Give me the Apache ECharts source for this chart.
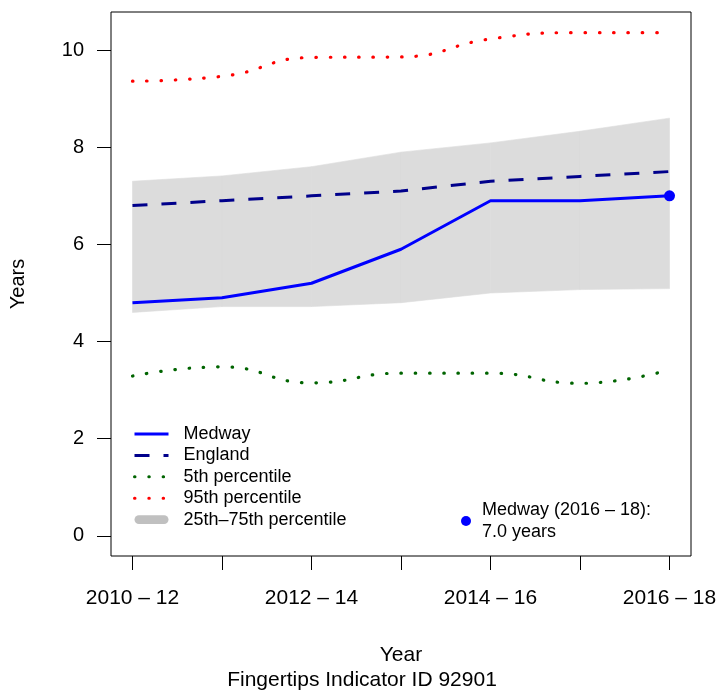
<!DOCTYPE html>
<html>
<head>
<meta charset="utf-8">
<script src="https://cdn.jsdelivr.net/npm/echarts@6/dist/echarts.min.js"></script>
<style>html,body{margin:0;padding:0;background:#fff}#c{width:724px;height:692px}</style>
</head>
<body>
<div id="c"></div>
<script>
var categories = ['2010 – 12','2011 – 13','2012 – 14','2013 – 15','2014 – 16','2015 – 17','2016 – 18'];
var medway = [4.8, 4.9, 5.2, 5.9, 6.9, 6.9, 7.0];
var england = [6.8, 6.9, 7.0, 7.1, 7.3, 7.4, 7.5];
var p5 = [3.29, 3.48, 3.15, 3.35, 3.35, 3.14, 3.42];
var p95 = [9.36, 9.46, 9.85, 9.86, 10.23, 10.36, 10.36];
var p25 = [4.6, 4.72, 4.72, 4.8, 5.0, 5.07, 5.09];
var p75 = [7.3, 7.41, 7.6, 7.9, 8.09, 8.33, 8.6];
var yTicks = [0, 2, 4, 6, 8, 10];
var xLabelIdx = [0, 2, 4, 6];
var pointLabel = 'Medway (2016 – 18):\n7.0 years';

function pairs(arr){ return arr.map(function(v,i){ return [i, v]; }); }
var bandData = p25.map(function(v,i){ return [i, v, p75[i]]; });
var last = categories.length - 1;

var font = 'Liberation Sans, Arial, sans-serif';
var capsule = 'path://M4.5,0 L30.5,0 A4.5,4.5 0 0 1 30.5,9 L4.5,9 A4.5,4.5 0 0 1 4.5,0 Z';

var chart = echarts.init(document.getElementById('c'));
chart.setOption({
  animation: false,
  backgroundColor: '#fff',
  textStyle: {fontFamily: font, color: '#000'},
  grid: {left: 111, top: 12, width: 580, height: 544, show: true, borderColor: '#000', borderWidth: 1, backgroundColor: 'transparent'},
  xAxis: {
    type: 'value', min: -0.24, max: 6.24,
    axisLine: {show: false, onZero: false},
    splitLine: {show: false},
    axisTick: {show: true, inside: false, length: 14, lineStyle: {color: '#000', width: 1}, customValues: categories.map(function(c,i){return i;})},
    axisLabel: {customValues: xLabelIdx, formatter: function(v){ return categories[Math.round(v)]; }, fontSize: 21, color: '#000', margin: 32, fontFamily: font},
    name: 'Year', nameLocation: 'middle', nameGap: 89,
    nameTextStyle: {fontSize: 21, color: '#000', fontFamily: font}
  },
  yAxis: {
    type: 'value', min: -0.415, max: 10.785,
    axisLine: {show: false, onZero: false},
    splitLine: {show: false},
    axisTick: {show: true, inside: false, length: 14, lineStyle: {color: '#000', width: 1}, customValues: yTicks},
    axisLabel: {customValues: yTicks, fontSize: 20, color: '#000', margin: 27, fontFamily: font},
    name: 'Years', nameLocation: 'middle', nameGap: 83, nameRotate: 90,
    nameTextStyle: {fontSize: 20, color: '#000', fontFamily: font}
  },
  title: {
    text: 'Fingertips Indicator ID 92901', left: 'center', top: 670, padding: 0,
    textStyle: {fontSize: 21, fontWeight: 'normal', color: '#000', fontFamily: font}
  },
  legend: [{
    orient: 'vertical', left: 133, top: 425, padding: 0,
    itemWidth: 34, itemHeight: 14, itemGap: 3.4,
    itemStyle: {opacity: 0},
    lineStyle: {width: 3},
    textStyle: {fontSize: 18, color: '#000', padding: [0,0,0,10], fontFamily: font},
    data: [
      {name: 'Medway'},
      {name: 'England'},
      {name: '5th percentile'},
      {name: '95th percentile'},
      {name: '25th–75th percentile', icon: capsule, itemStyle: {color: '#c0c0c0', opacity: 1}}
    ],
    selectedMode: false
  }, {
    orient: 'vertical', left: 461, top: 499, padding: 0,
    itemWidth: 10, itemHeight: 10,
    itemStyle: {color: '#0000ff', opacity: 1},
    textStyle: {fontSize: 18, color: '#000', padding: [0,0,0,6], lineHeight: 22, fontFamily: font},
    data: [{name: pointLabel, icon: 'circle'}],
    selectedMode: false
  }],
  series: [
    {name: '25th–75th percentile', type: 'custom', data: bandData, silent: true,
      encode: {x: 0, y: [1, 2]},
      itemStyle: {color: '#dcdcdc'},
      renderItem: function(params, api){
        var i = params.dataIndex;
        if (i >= bandData.length - 1) return null;
        var a = api.coord([api.value(0, i), api.value(1, i)]);
        var b = api.coord([api.value(0, i+1), api.value(1, i+1)]);
        var c = api.coord([api.value(0, i+1), api.value(2, i+1)]);
        var d = api.coord([api.value(0, i), api.value(2, i)]);
        return {type: 'polygon', shape: {points: [a, b, c, d]}, style: {fill: '#dcdcdc', stroke: '#dcdcdc', lineWidth: 0.6}};
      }
    },
    {name: '95th percentile', type: 'line', data: pairs(p95), symbol: 'none', smooth: 0.5,
      lineStyle: {color: '#ff0000', width: 3.2, type: [0.5, 13.8], cap: 'round'}, itemStyle: {color: '#ff0000'}},
    {name: '5th percentile', type: 'line', data: pairs(p5), symbol: 'none', smooth: 0.5,
      lineStyle: {color: '#006400', width: 3.2, type: [0.5, 13.8], cap: 'round'}, itemStyle: {color: '#006400'}},
    {name: 'England', type: 'line', data: pairs(england), symbol: 'none',
      lineStyle: {color: '#00008b', width: 3, type: [15, 14], cap: 'butt'}, itemStyle: {color: '#00008b'}},
    {name: 'Medway', type: 'line', data: pairs(medway), symbol: 'none',
      lineStyle: {color: '#0000ff', width: 3}, itemStyle: {color: '#0000ff'}},
    {name: pointLabel, type: 'scatter', data: [[last, medway[last]]], symbol: 'circle', symbolSize: 11,
      itemStyle: {color: '#0000ff', opacity: 1}, z: 5}
  ]
});
</script>
</body>
</html>
